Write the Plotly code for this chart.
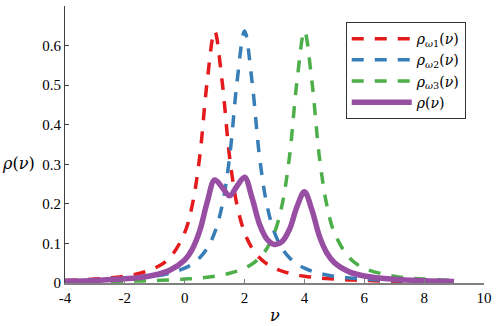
import plotly.graph_objects as go

nu = [-4, -3, -2, -1.5, -1, -0.5, 0, 0.25, 0.5, 0.75, 1, 1.25, 1.5, 1.75, 2, 2.25,
      2.5, 2.75, 3, 3.25, 3.5, 3.75, 4, 4.25, 4.5, 4.75, 5, 5.5, 6, 7, 8, 9]
rho_w1 = [0.0063, 0.0098, 0.0172, 0.0245, 0.0374, 0.0637, 0.1273, 0.1959, 0.3183, 0.5093,
          0.6366, 0.5093, 0.3183, 0.1959, 0.1273, 0.0878, 0.0637, 0.0480, 0.0374, 0.0300,
          0.0245, 0.0204, 0.0172, 0.0147, 0.0127, 0.0111, 0.0098, 0.0078, 0.0063, 0.0044,
          0.0032, 0.0025]
rho_w2 = [0.0044, 0.0063, 0.0098, 0.0127, 0.0172, 0.0245, 0.0374, 0.0480, 0.0637, 0.0878,
          0.1273, 0.1959, 0.3183, 0.5093, 0.6366, 0.5093, 0.3183, 0.1959, 0.1273, 0.0878,
          0.0637, 0.0480, 0.0374, 0.0300, 0.0245, 0.0204, 0.0172, 0.0127, 0.0098, 0.0063,
          0.0044, 0.0032]
rho_w3 = [0.0025, 0.0032, 0.0044, 0.0052, 0.0063, 0.0078, 0.0098, 0.0111, 0.0127, 0.0147,
          0.0172, 0.0204, 0.0245, 0.0300, 0.0374, 0.0480, 0.0637, 0.0878, 0.1273, 0.1959,
          0.3183, 0.5093, 0.6366, 0.5093, 0.3183, 0.1959, 0.1273, 0.0637, 0.0374, 0.0172,
          0.0098, 0.0063]
rho = [0.0044, 0.0064, 0.0105, 0.0141, 0.0203, 0.0320, 0.0582, 0.0850, 0.1316, 0.2039,
       0.2604, 0.2419, 0.2204, 0.2451, 0.2671, 0.2150, 0.1486, 0.1106, 0.0973, 0.1046,
       0.1355, 0.1926, 0.2304, 0.1847, 0.1185, 0.0758, 0.0514, 0.0281, 0.0178, 0.0093,
       0.0058, 0.0040]

x_ticks = [-4, -2, 0, 2, 4, 6, 8, 10]
x_tick_labels = ["-4", "-2", "0", "2", "4", "6", "8", "10"]
y_ticks = [0, 0.1, 0.2, 0.3, 0.4, 0.5, 0.6, 0.7]
y_tick_labels = ["0", "0.1", "0.2", "0.3", "0.4", "0.5", "0.6", "0.7"]

FONT = "Liberation Serif, Times New Roman, serif"
MATH = "DejaVu Serif, serif"

fig = go.Figure()
dash = "12px,11px"
fig.add_trace(go.Scatter(x=nu, y=rho_w1, mode="lines", line=dict(color="#e41a1c", width=3.5, dash=dash, shape="spline"),
                         name="<i>ρ</i><sub><i>ω</i>1</sub>(<i>ν</i>)"))
fig.add_trace(go.Scatter(x=nu, y=rho_w2, mode="lines", line=dict(color="#377eb8", width=3.5, dash=dash, shape="spline"),
                         name="<i>ρ</i><sub><i>ω</i>2</sub>(<i>ν</i>)"))
fig.add_trace(go.Scatter(x=nu, y=rho_w3, mode="lines", line=dict(color="#4daf4a", width=3.5, dash=dash, shape="spline"),
                         name="<i>ρ</i><sub><i>ω</i>3</sub>(<i>ν</i>)"))
fig.add_trace(go.Scatter(x=nu, y=rho, mode="lines", line=dict(color="#984ea3", width=5.5, shape="spline"),
                         name="<i>ρ</i>(<i>ν</i>)"))

fig.update_layout(
    width=498, height=326,
    margin=dict(l=65, r=9, t=6, b=43),
    paper_bgcolor="white", plot_bgcolor="white",
    font=dict(family=FONT, size=14, color="black"),
    showlegend=True,
    legend=dict(x=0.67, y=0.942, xanchor="left", yanchor="top",
                bordercolor="#333333", borderwidth=1, bgcolor="white",
                font=dict(family=MATH, size=14), itemwidth=60, tracegroupgap=0),
)
fig.update_xaxes(range=[-4, 10], tickvals=x_ticks, ticktext=x_tick_labels, ticks="inside", ticklen=4,
                 showline=True, linecolor="#808080", linewidth=1.5, tickcolor="#808080",
                 showgrid=False, zeroline=False, tickfont=dict(size=15, family=FONT))
fig.update_yaxes(range=[0, 0.7], tickvals=y_ticks, ticktext=y_tick_labels, ticks="inside", ticklen=4,
                 showline=True, linecolor="#404040", linewidth=1.2, tickcolor="#404040",
                 showgrid=False, zeroline=False, tickfont=dict(size=15, family=FONT))

fig.add_annotation(text="<i>ν</i>", x=0.5, y=-0.075, xref="paper", yref="paper",
                   xanchor="center", yanchor="top", showarrow=False, font=dict(size=16, family=MATH))
fig.add_annotation(text="<i>ρ</i>(<i>ν</i>)", x=-0.155, y=0.43, xref="paper", yref="paper",
                   xanchor="left", yanchor="middle", showarrow=False, font=dict(size=16, family=MATH))

fig.write_html("out.html", config={"displayModeBar": False},
               post_script="document.body.style.margin='0';document.body.style.padding='0';")
